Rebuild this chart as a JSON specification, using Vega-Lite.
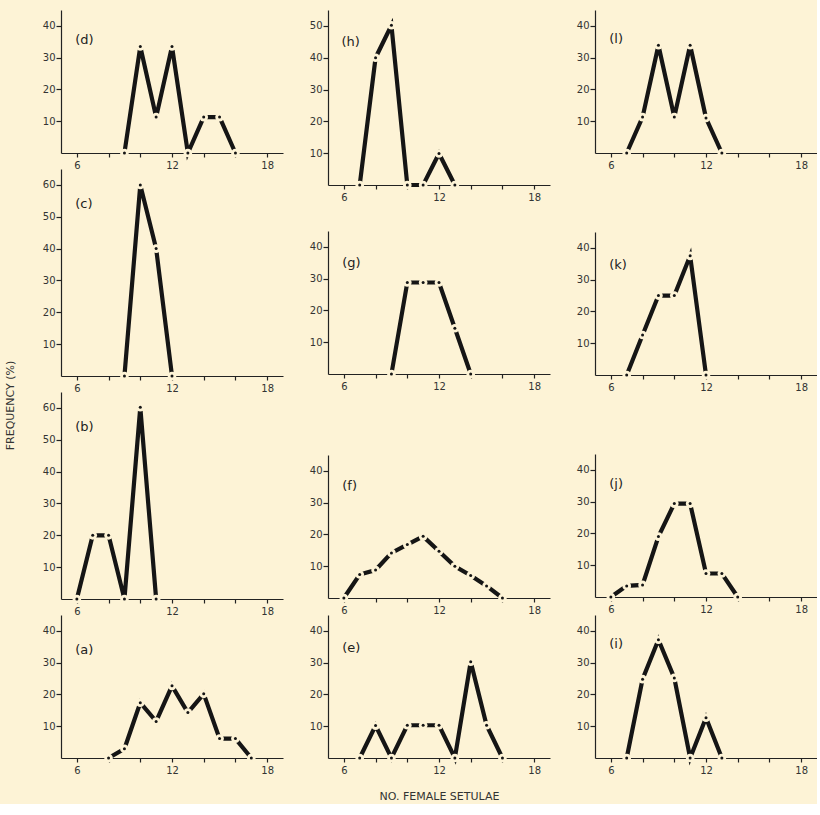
{
  "$schema": "https://vega.github.io/schema/vega-lite/v6.json",
  "background": "#FDF3D6",
  "padding": {"left": 5, "top": 10, "right": 0, "bottom": 3},
  "config": {
    "view": {"stroke": null},
    "axis": {"domainColor": "#222", "domainWidth": 1.2, "tickColor": "#222", "tickWidth": 1.2, "labelColor": "#333", "labelFont": "DejaVu Sans", "labelFontSize": 10, "grid": false, "zindex": 1, "labelOverlap": false},
    "axisX": {"values": [5,6,7,8,9,10,11,12,13,14,15,16,17,18,19], "labelExpr": "(datum.value == 6 || datum.value == 12 || datum.value == 18) ? datum.label : ''", "tickSize": 4, "labelPadding": 3, "labelFlush": false},
    "axisY": {"tickSize": 5, "labelPadding": 1},
    "text": {"font": "DejaVu Sans"}
  },
  "title": {"text": "FREQUENCY (%)", "orient": "left", "anchor": "middle", "font": "DejaVu Sans", "fontSize": 11, "fontWeight": "normal", "color": "#333", "offset": 26},
  "data": {"values": [
    {"p": "d", "x": 9, "y": 0}, {"p": "d", "x": 10, "y": 33.5}, {"p": "d", "x": 11, "y": 11.3}, {"p": "d", "x": 12, "y": 33.5}, {"p": "d", "x": 13, "y": 0}, {"p": "d", "x": 14, "y": 11.3}, {"p": "d", "x": 15, "y": 11.3}, {"p": "d", "x": 16, "y": 0},
    {"p": "h", "x": 7, "y": 0}, {"p": "h", "x": 8, "y": 40}, {"p": "h", "x": 9, "y": 50.2}, {"p": "h", "x": 10, "y": 0}, {"p": "h", "x": 11, "y": 0}, {"p": "h", "x": 12, "y": 9.9}, {"p": "h", "x": 13, "y": 0},
    {"p": "l", "x": 7, "y": 0}, {"p": "l", "x": 8, "y": 11.3}, {"p": "l", "x": 9, "y": 33.9}, {"p": "l", "x": 10, "y": 11.3}, {"p": "l", "x": 11, "y": 33.9}, {"p": "l", "x": 12, "y": 11}, {"p": "l", "x": 13, "y": 0},
    {"p": "c", "x": 9, "y": 0}, {"p": "c", "x": 10, "y": 60}, {"p": "c", "x": 11, "y": 40}, {"p": "c", "x": 12, "y": 0},
    {"p": "g", "x": 9, "y": 0}, {"p": "g", "x": 10, "y": 28.8}, {"p": "g", "x": 11, "y": 28.8}, {"p": "g", "x": 12, "y": 28.8}, {"p": "g", "x": 13, "y": 14.4}, {"p": "g", "x": 14, "y": 0},
    {"p": "k", "x": 7, "y": 0}, {"p": "k", "x": 8, "y": 12.6}, {"p": "k", "x": 9, "y": 25}, {"p": "k", "x": 10, "y": 25}, {"p": "k", "x": 11, "y": 37.5}, {"p": "k", "x": 12, "y": 0},
    {"p": "b", "x": 6, "y": 0}, {"p": "b", "x": 7, "y": 20}, {"p": "b", "x": 8, "y": 20}, {"p": "b", "x": 9, "y": 0}, {"p": "b", "x": 10, "y": 60.2}, {"p": "b", "x": 11, "y": 0},
    {"p": "f", "x": 6, "y": 0}, {"p": "f", "x": 7, "y": 7.4}, {"p": "f", "x": 8, "y": 8.8}, {"p": "f", "x": 9, "y": 14.2}, {"p": "f", "x": 10, "y": 16.8}, {"p": "f", "x": 11, "y": 19.4}, {"p": "f", "x": 12, "y": 14.7}, {"p": "f", "x": 13, "y": 10}, {"p": "f", "x": 14, "y": 7.1}, {"p": "f", "x": 15, "y": 3.8}, {"p": "f", "x": 16, "y": 0},
    {"p": "j", "x": 6, "y": 0}, {"p": "j", "x": 7, "y": 3.5}, {"p": "j", "x": 8, "y": 3.8}, {"p": "j", "x": 9, "y": 19}, {"p": "j", "x": 10, "y": 29.4}, {"p": "j", "x": 11, "y": 29.4}, {"p": "j", "x": 12, "y": 7.4}, {"p": "j", "x": 13, "y": 7.4}, {"p": "j", "x": 14, "y": 0},
    {"p": "a", "x": 8, "y": 0}, {"p": "a", "x": 9, "y": 2.9}, {"p": "a", "x": 10, "y": 17.4}, {"p": "a", "x": 11, "y": 11.5}, {"p": "a", "x": 12, "y": 22.7}, {"p": "a", "x": 13, "y": 14.3}, {"p": "a", "x": 14, "y": 20.2}, {"p": "a", "x": 15, "y": 6.1}, {"p": "a", "x": 16, "y": 6.1}, {"p": "a", "x": 17, "y": 0},
    {"p": "e", "x": 7, "y": 0}, {"p": "e", "x": 8, "y": 10.2}, {"p": "e", "x": 9, "y": 0}, {"p": "e", "x": 10, "y": 10.3}, {"p": "e", "x": 11, "y": 10.3}, {"p": "e", "x": 12, "y": 10.3}, {"p": "e", "x": 13, "y": 0}, {"p": "e", "x": 14, "y": 30.3}, {"p": "e", "x": 15, "y": 10.3}, {"p": "e", "x": 16, "y": 0},
    {"p": "i", "x": 7, "y": 0}, {"p": "i", "x": 8, "y": 24.8}, {"p": "i", "x": 9, "y": 37.2}, {"p": "i", "x": 10, "y": 25.2}, {"p": "i", "x": 11, "y": 0}, {"p": "i", "x": 12, "y": 12.7}, {"p": "i", "x": 13, "y": 0}
  ]},
  "hconcat": [
    {"vconcat": [
      {"width": 222, "height": 143, "layer": [
        {"transform": [{"filter": "datum.p == 'd'"}],
         "encoding": {"x": {"field": "x", "type": "quantitative", "title": null, "scale": {"domain": [5, 19], "nice": false, "zero": false}}, "y": {"field": "y", "type": "quantitative", "title": null, "scale": {"domain": [0, 45], "nice": false}, "axis": {"values": [10, 20, 30, 40]}}},
         "layer": [
          {"mark": {"type": "line", "color": "#151515", "strokeWidth": 4.2}},
          {"mark": {"type": "point", "filled": true, "color": "#FDF3D6", "opacity": 1, "size": 75}},
          {"mark": {"type": "point", "filled": true, "color": "#151515", "opacity": 1, "size": 9}}]},
        {"data": {"values": [{"t": "(d)"}]}, "mark": {"type": "text", "align": "left", "baseline": "middle", "fontSize": 13, "color": "#222"},
         "encoding": {"x": {"datum": 5.9, "type": "quantitative", "title": null}, "y": {"datum": 35.5, "type": "quantitative", "title": null}, "text": {"field": "t"}}}]},
      {"width": 222, "height": 207, "layer": [
        {"transform": [{"filter": "datum.p == 'c'"}],
         "encoding": {"x": {"field": "x", "type": "quantitative", "title": null, "scale": {"domain": [5, 19], "nice": false, "zero": false}}, "y": {"field": "y", "type": "quantitative", "title": null, "scale": {"domain": [0, 65], "nice": false}, "axis": {"values": [10, 20, 30, 40, 50, 60]}}},
         "layer": [
          {"mark": {"type": "line", "color": "#151515", "strokeWidth": 4.2}},
          {"mark": {"type": "point", "filled": true, "color": "#FDF3D6", "opacity": 1, "size": 75}},
          {"mark": {"type": "point", "filled": true, "color": "#151515", "opacity": 1, "size": 9}}]},
        {"data": {"values": [{"t": "(c)"}]}, "mark": {"type": "text", "align": "left", "baseline": "middle", "fontSize": 13, "color": "#222"},
         "encoding": {"x": {"datum": 5.9, "type": "quantitative", "title": null}, "y": {"datum": 54, "type": "quantitative", "title": null}, "text": {"field": "t"}}}]},
      {"width": 222, "height": 207, "layer": [
        {"transform": [{"filter": "datum.p == 'b'"}],
         "encoding": {"x": {"field": "x", "type": "quantitative", "title": null, "scale": {"domain": [5, 19], "nice": false, "zero": false}}, "y": {"field": "y", "type": "quantitative", "title": null, "scale": {"domain": [0, 65], "nice": false}, "axis": {"values": [10, 20, 30, 40, 50, 60]}}},
         "layer": [
          {"mark": {"type": "line", "color": "#151515", "strokeWidth": 4.2}},
          {"mark": {"type": "point", "filled": true, "color": "#FDF3D6", "opacity": 1, "size": 75}},
          {"mark": {"type": "point", "filled": true, "color": "#151515", "opacity": 1, "size": 9}}]},
        {"data": {"values": [{"t": "(b)"}]}, "mark": {"type": "text", "align": "left", "baseline": "middle", "fontSize": 13, "color": "#222"},
         "encoding": {"x": {"datum": 5.9, "type": "quantitative", "title": null}, "y": {"datum": 54, "type": "quantitative", "title": null}, "text": {"field": "t"}}}]},
      {"width": 222, "height": 143, "layer": [
        {"transform": [{"filter": "datum.p == 'a'"}],
         "encoding": {"x": {"field": "x", "type": "quantitative", "title": null, "scale": {"domain": [5, 19], "nice": false, "zero": false}}, "y": {"field": "y", "type": "quantitative", "title": null, "scale": {"domain": [0, 45], "nice": false}, "axis": {"values": [10, 20, 30, 40]}}},
         "layer": [
          {"mark": {"type": "line", "color": "#151515", "strokeWidth": 4.2}},
          {"mark": {"type": "point", "filled": true, "color": "#FDF3D6", "opacity": 1, "size": 75}},
          {"mark": {"type": "point", "filled": true, "color": "#151515", "opacity": 1, "size": 9}}]},
        {"data": {"values": [{"t": "(a)"}]}, "mark": {"type": "text", "align": "left", "baseline": "middle", "fontSize": 13, "color": "#222"},
         "encoding": {"x": {"datum": 5.9, "type": "quantitative", "title": null}, "y": {"datum": 34, "type": "quantitative", "title": null}, "text": {"field": "t"}}}]}
    ], "spacing": 16, "bounds": "flush"},
    {"vconcat": [
      {"width": 222, "height": 175, "layer": [
        {"transform": [{"filter": "datum.p == 'h'"}],
         "encoding": {"x": {"field": "x", "type": "quantitative", "title": null, "scale": {"domain": [5, 19], "nice": false, "zero": false}}, "y": {"field": "y", "type": "quantitative", "title": null, "scale": {"domain": [0, 55], "nice": false}, "axis": {"values": [10, 20, 30, 40, 50]}}},
         "layer": [
          {"mark": {"type": "line", "color": "#151515", "strokeWidth": 4.2}},
          {"mark": {"type": "point", "filled": true, "color": "#FDF3D6", "opacity": 1, "size": 75}},
          {"mark": {"type": "point", "filled": true, "color": "#151515", "opacity": 1, "size": 9}}]},
        {"data": {"values": [{"t": "(h)"}]}, "mark": {"type": "text", "align": "left", "baseline": "middle", "fontSize": 13, "color": "#222"},
         "encoding": {"x": {"datum": 5.85, "type": "quantitative", "title": null}, "y": {"datum": 45, "type": "quantitative", "title": null}, "text": {"field": "t"}}}]},
      {"width": 222, "height": 46, "data": {"values": []}, "mark": {"type": "point", "opacity": 0}},
      {"width": 222, "height": 143, "layer": [
        {"transform": [{"filter": "datum.p == 'g'"}],
         "encoding": {"x": {"field": "x", "type": "quantitative", "title": null, "scale": {"domain": [5, 19], "nice": false, "zero": false}}, "y": {"field": "y", "type": "quantitative", "title": null, "scale": {"domain": [0, 45], "nice": false}, "axis": {"values": [10, 20, 30, 40]}}},
         "layer": [
          {"mark": {"type": "line", "color": "#151515", "strokeWidth": 4.2}},
          {"mark": {"type": "point", "filled": true, "color": "#FDF3D6", "opacity": 1, "size": 75}},
          {"mark": {"type": "point", "filled": true, "color": "#151515", "opacity": 1, "size": 9}}]},
        {"data": {"values": [{"t": "(g)"}]}, "mark": {"type": "text", "align": "left", "baseline": "middle", "fontSize": 13, "color": "#222"},
         "encoding": {"x": {"datum": 5.9, "type": "quantitative", "title": null}, "y": {"datum": 35, "type": "quantitative", "title": null}, "text": {"field": "t"}}}]},
      {"width": 222, "height": 81, "data": {"values": []}, "mark": {"type": "point", "opacity": 0}},
      {"width": 222, "height": 143, "layer": [
        {"transform": [{"filter": "datum.p == 'f'"}],
         "encoding": {"x": {"field": "x", "type": "quantitative", "title": null, "scale": {"domain": [5, 19], "nice": false, "zero": false}}, "y": {"field": "y", "type": "quantitative", "title": null, "scale": {"domain": [0, 45], "nice": false}, "axis": {"values": [10, 20, 30, 40]}}},
         "layer": [
          {"mark": {"type": "line", "color": "#151515", "strokeWidth": 4.2}},
          {"mark": {"type": "point", "filled": true, "color": "#FDF3D6", "opacity": 1, "size": 75}},
          {"mark": {"type": "point", "filled": true, "color": "#151515", "opacity": 1, "size": 9}}]},
        {"data": {"values": [{"t": "(f)"}]}, "mark": {"type": "text", "align": "left", "baseline": "middle", "fontSize": 13, "color": "#222"},
         "encoding": {"x": {"datum": 5.9, "type": "quantitative", "title": null}, "y": {"datum": 35.3, "type": "quantitative", "title": null}, "text": {"field": "t"}}}]},
      {"width": 222, "height": 17, "data": {"values": []}, "mark": {"type": "point", "opacity": 0}},
      {"width": 222, "height": 143, "layer": [
        {"transform": [{"filter": "datum.p == 'e'"}],
         "encoding": {"x": {"field": "x", "type": "quantitative", "title": "NO. FEMALE SETULAE", "scale": {"domain": [5, 19], "nice": false, "zero": false}, "axis": {"titleFont": "DejaVu Sans", "titleFontSize": 11, "titleFontWeight": "normal", "titleColor": "#333", "titlePadding": 15}}, "y": {"field": "y", "type": "quantitative", "title": null, "scale": {"domain": [0, 45], "nice": false}, "axis": {"values": [10, 20, 30, 40]}}},
         "layer": [
          {"mark": {"type": "line", "color": "#151515", "strokeWidth": 4.2}},
          {"mark": {"type": "point", "filled": true, "color": "#FDF3D6", "opacity": 1, "size": 75}},
          {"mark": {"type": "point", "filled": true, "color": "#151515", "opacity": 1, "size": 9}}]},
        {"data": {"values": [{"t": "(e)"}]}, "mark": {"type": "text", "align": "left", "baseline": "middle", "fontSize": 13, "color": "#222"},
         "encoding": {"x": {"datum": 5.9, "type": "quantitative", "title": "NO. FEMALE SETULAE"}, "y": {"datum": 34.7, "type": "quantitative", "title": null}, "text": {"field": "t"}}}]}
    ], "spacing": 0, "bounds": "flush"},
    {"vconcat": [
      {"width": 222, "height": 143, "layer": [
        {"transform": [{"filter": "datum.p == 'l'"}],
         "encoding": {"x": {"field": "x", "type": "quantitative", "title": null, "scale": {"domain": [5, 19], "nice": false, "zero": false}}, "y": {"field": "y", "type": "quantitative", "title": null, "scale": {"domain": [0, 45], "nice": false}, "axis": {"values": [10, 20, 30, 40]}}},
         "layer": [
          {"mark": {"type": "line", "color": "#151515", "strokeWidth": 4.2}},
          {"mark": {"type": "point", "filled": true, "color": "#FDF3D6", "opacity": 1, "size": 75}},
          {"mark": {"type": "point", "filled": true, "color": "#151515", "opacity": 1, "size": 9}}]},
        {"data": {"values": [{"t": "(l)"}]}, "mark": {"type": "text", "align": "left", "baseline": "middle", "fontSize": 13, "color": "#222"},
         "encoding": {"x": {"datum": 5.9, "type": "quantitative", "title": null}, "y": {"datum": 36, "type": "quantitative", "title": null}, "text": {"field": "t"}}}]},
      {"width": 222, "height": 79, "data": {"values": []}, "mark": {"type": "point", "opacity": 0}},
      {"width": 222, "height": 143, "layer": [
        {"transform": [{"filter": "datum.p == 'k'"}],
         "encoding": {"x": {"field": "x", "type": "quantitative", "title": null, "scale": {"domain": [5, 19], "nice": false, "zero": false}}, "y": {"field": "y", "type": "quantitative", "title": null, "scale": {"domain": [0, 45], "nice": false}, "axis": {"values": [10, 20, 30, 40]}}},
         "layer": [
          {"mark": {"type": "line", "color": "#151515", "strokeWidth": 4.2}},
          {"mark": {"type": "point", "filled": true, "color": "#FDF3D6", "opacity": 1, "size": 75}},
          {"mark": {"type": "point", "filled": true, "color": "#151515", "opacity": 1, "size": 9}}]},
        {"data": {"values": [{"t": "(k)"}]}, "mark": {"type": "text", "align": "left", "baseline": "middle", "fontSize": 13, "color": "#222"},
         "encoding": {"x": {"datum": 5.9, "type": "quantitative", "title": null}, "y": {"datum": 34.6, "type": "quantitative", "title": null}, "text": {"field": "t"}}}]},
      {"width": 222, "height": 79, "data": {"values": []}, "mark": {"type": "point", "opacity": 0}},
      {"width": 222, "height": 143, "layer": [
        {"transform": [{"filter": "datum.p == 'j'"}],
         "encoding": {"x": {"field": "x", "type": "quantitative", "title": null, "scale": {"domain": [5, 19], "nice": false, "zero": false}}, "y": {"field": "y", "type": "quantitative", "title": null, "scale": {"domain": [0, 45], "nice": false}, "axis": {"values": [10, 20, 30, 40]}}},
         "layer": [
          {"mark": {"type": "line", "color": "#151515", "strokeWidth": 4.2}},
          {"mark": {"type": "point", "filled": true, "color": "#FDF3D6", "opacity": 1, "size": 75}},
          {"mark": {"type": "point", "filled": true, "color": "#151515", "opacity": 1, "size": 9}}]},
        {"data": {"values": [{"t": "(j)"}]}, "mark": {"type": "text", "align": "left", "baseline": "middle", "fontSize": 13, "color": "#222"},
         "encoding": {"x": {"datum": 5.9, "type": "quantitative", "title": null}, "y": {"datum": 35.6, "type": "quantitative", "title": null}, "text": {"field": "t"}}}]},
      {"width": 222, "height": 18, "data": {"values": []}, "mark": {"type": "point", "opacity": 0}},
      {"width": 222, "height": 143, "layer": [
        {"transform": [{"filter": "datum.p == 'i'"}],
         "encoding": {"x": {"field": "x", "type": "quantitative", "title": null, "scale": {"domain": [5, 19], "nice": false, "zero": false}}, "y": {"field": "y", "type": "quantitative", "title": null, "scale": {"domain": [0, 45], "nice": false}, "axis": {"values": [10, 20, 30, 40]}}},
         "layer": [
          {"mark": {"type": "line", "color": "#151515", "strokeWidth": 4.2}},
          {"mark": {"type": "point", "filled": true, "color": "#FDF3D6", "opacity": 1, "size": 75}},
          {"mark": {"type": "point", "filled": true, "color": "#151515", "opacity": 1, "size": 9}}]},
        {"data": {"values": [{"t": "(i)"}]}, "mark": {"type": "text", "align": "left", "baseline": "middle", "fontSize": 13, "color": "#222"},
         "encoding": {"x": {"datum": 5.9, "type": "quantitative", "title": null}, "y": {"datum": 35.8, "type": "quantitative", "title": null}, "text": {"field": "t"}}}]}
    ], "spacing": 0, "bounds": "flush"}
  ],
  "spacing": 26
}
